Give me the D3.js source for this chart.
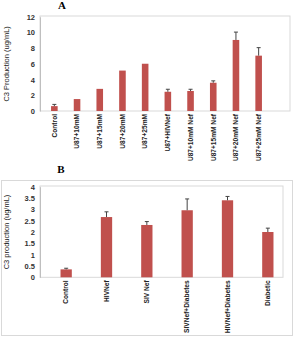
<!DOCTYPE html>
<html>
<head>
<meta charset="utf-8">
<script src="https://cdn.jsdelivr.net/npm/d3@7"></script>
<style>
  body { margin: 0; background: #fff; }
  svg { display: block; font-family: Arial, "Liberation Sans", sans-serif; }
</style>
</head>
<body>
<svg id="canvas" width="294" height="338"></svg>
<script>
// panel A data
const catsA = ['Control', 'U87+10mM', 'U87+15mM', 'U87+20mM', 'U87+25mM', 'U87+HIVNef',
               'U87+10mM Nef', 'U87+15mM Nef', 'U87+20mM Nef', 'U87+25mM Nef'];
const valsA = [0.62, 1.52, 2.82, 5.15, 6.02, 2.45, 2.55, 3.6, 9.05, 7.05];
const errA  = [0.22, 0, 0, 0, 0, 0.32, 0.22, 0.24, 1.0, 1.02];
const ticksA = [0, 2, 4, 6, 8, 10, 12];

// panel B data
const catsB = ['Control', 'HIVNef', 'SIV Nef', 'SIVNef+Diabetes', 'HIVNef+Diabetes', 'Diabetic'];
const valsB = [0.35, 2.66, 2.31, 2.96, 3.4, 2.0];
const errB  = [0.05, 0.23, 0.15, 0.5, 0.17, 0.17];
const ticksB = [0, 0.5, 1, 1.5, 2, 2.5, 3, 3.5, 4];

const barColor = '#c0504d';
const svg = d3.select('#canvas');

// outer box round panel B
svg.append('rect').attr('x', 1.5).attr('y', 180.5).attr('width', 291).attr('height', 155)
   .attr('fill', 'none').attr('stroke', '#d9d9d9');

function panel(o) {
    let g = svg.append('g');
    let x = d3.scaleBand().domain(o.cats).range(o.xr).paddingInner(o.pad).paddingOuter(o.pad / 2);
    let y = d3.scaleLinear().domain([0, d3.max(o.ticks)]).range(o.yr);
    let mid = c => x(c) + x.bandwidth() / 2;

    // plot frame
    g.append('rect').attr('x', o.frame[0]).attr('y', o.frame[1])
     .attr('width', o.frame[2] - o.frame[0]).attr('height', o.frame[3] - o.frame[1])
     .attr('fill', 'none').attr('stroke', '#d9d9d9');

    // y axis
    let ya = g.append('g').attr('transform', 'translate(' + o.frame[0] + ',0)')
              .call(d3.axisLeft(y).tickValues(o.ticks).tickFormat(d3.format('~g')).tickSize(0).tickPadding(5));
    ya.select('.domain').attr('stroke', '#bfbfbf');
    ya.selectAll('text').attr('font-size', 7.5).attr('font-weight', 'bold').attr('fill', '#333');

    let rows = o.cats.map((c, i) => ({c: c, v: o.vals[i], e: o.err[i]}));

    // bars
    g.selectAll('rect.bar').data(rows).enter().append('rect').attr('class', 'bar')
     .attr('x', d => x(d.c))
     .attr('y', d => y(d.v))
     .attr('width', x.bandwidth())
     .attr('height', d => y(0) - y(d.v))
     .attr('fill', barColor);

    // error bars (upper only)
    let eb = g.selectAll('g.err').data(rows.filter(d => d.e > 0)).enter().append('g').attr('class', 'err');
    eb.append('line')
      .attr('x1', d => mid(d.c)).attr('x2', d => mid(d.c))
      .attr('y1', d => y(d.v)).attr('y2', d => y(d.v + d.e))
      .attr('stroke', '#444').attr('stroke-width', 1);
    eb.append('line')
      .attr('x1', d => mid(d.c) - 2).attr('x2', d => mid(d.c) + 2)
      .attr('y1', d => y(d.v + d.e)).attr('y2', d => y(d.v + d.e))
      .attr('stroke', '#444').attr('stroke-width', 1);

    // x labels, rotated
    g.selectAll('text.xl').data(o.cats).enter().append('text').attr('class', 'xl')
     .attr('transform', d => 'translate(' + mid(d) + ',' + (y(0) + 3) + ') rotate(-90)')
     .attr('dy', '0.35em')
     .attr('text-anchor', 'end')
     .attr('font-size', 6.6)
     .attr('font-weight', 'bold')
     .attr('fill', '#222')
     .text(d => d);

    // y title
    g.append('text')
     .attr('transform', 'translate(9,' + ((o.yr[0] + o.yr[1]) / 2) + ') rotate(-90)')
     .attr('text-anchor', 'middle')
     .attr('font-size', 7.5)
     .attr('fill', '#222')
     .text(o.ytitle);

    // panel letter
    g.append('text').attr('x', o.letter[0]).attr('y', o.letter[1])
     .attr('text-anchor', 'middle')
     .attr('font-family', '"Liberation Serif", "Times New Roman", serif')
     .attr('font-weight', 'bold').attr('font-size', 11)
     .text(o.name);
}

panel({
    name: 'A', letter: [62, 8.5],
    cats: catsA, vals: valsA, err: errA, ticks: ticksA,
    xr: [43, 270], yr: [111, 16.8], pad: 0.71,
    frame: [40, 16, 290, 111],
    ytitle: 'C3 Production (ug/mL)'
});

panel({
    name: 'B', letter: [61, 173],
    cats: catsB, vals: valsB, err: errB, ticks: ticksB,
    xr: [46, 288], yr: [277.3, 186.7], pad: 0.72,
    frame: [40, 186, 283, 277.3],
    ytitle: 'C3 production (ug/mL)'
});
</script>
</body>
</html>
